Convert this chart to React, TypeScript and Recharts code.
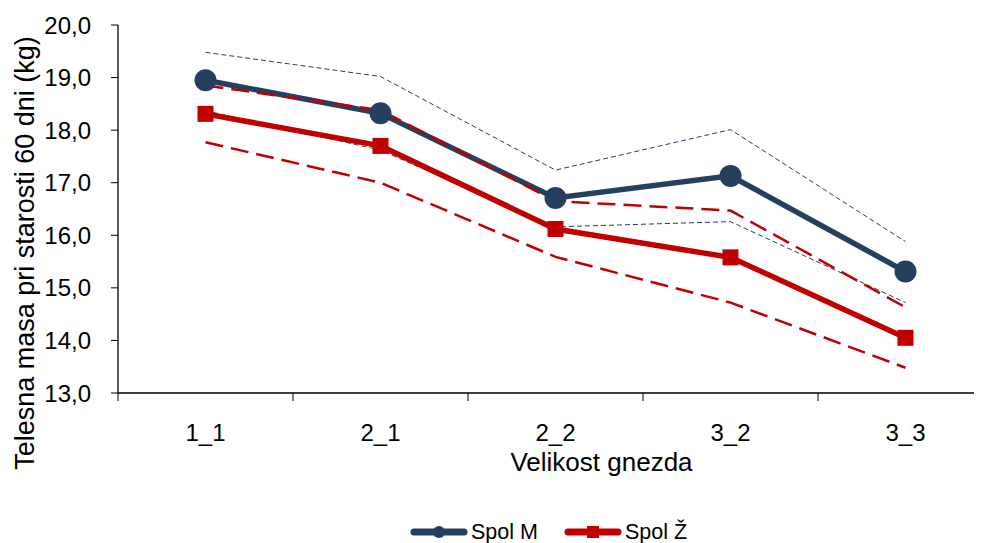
import React from "react";
import {
  ComposedChart,
  Line,
  XAxis,
  YAxis,
  Legend,
  Label,
} from "recharts";

// Velikost gnezda kategorije
const categories = ["1_1", "2_1", "2_2", "3_2", "3_3"];

// Spol M: povprecje in meje
const spolM = [18.95, 18.32, 16.71, 17.13, 15.31];
const spolMUpper = [19.48, 19.02, 17.24, 18.01, 15.88];
const spolMLower = [18.37, 17.62, 16.16, 16.26, 14.72];

// Spol Ž: povprecje in meje
const spolZ = [18.31, 17.7, 16.12, 15.58, 14.05];
const spolZUpper = [18.85, 18.38, 16.65, 16.47, 14.63];
const spolZLower = [17.77, 17.0, 15.59, 14.72, 13.48];

const yTicks = [13, 14, 15, 16, 17, 18, 19, 20];

const data = categories.map((c, i) => ({
  cat: c,
  m: spolM[i],
  mUp: spolMUpper[i],
  mLo: spolMLower[i],
  z: spolZ[i],
  zUp: spolZUpper[i],
  zLo: spolZLower[i],
}));

const NAVY = "#253F60";
const RED = "#C00000";
const FONT = "Arial, 'Liberation Sans', sans-serif";

const SquareDot = (props: any) => {
  const { cx, cy, index } = props;
  if (cx == null || cy == null) return <g key={`sq-${index}`} />;
  return <rect key={`sq-${index}`} x={cx - 8} y={cy - 8} width={16} height={16} fill={RED} />;
};

// kategorijska os: crtice med kategorijami (kot v Excelu)
const CategoryTick = (props: any) => {
  const { x, y, payload, index, visibleTicksCount } = props;
  const half = payload.offset ?? 0;
  const axisY = y - 31;
  return (
    <g>
      <line x1={x - half} y1={axisY} x2={x - half} y2={axisY + 8} stroke="#000" />
      {index === visibleTicksCount - 1 && (
        <line x1={x + half} y1={axisY} x2={x + half} y2={axisY + 8} stroke="#000" />
      )}
      <text x={x} y={y} dy="0.71em" textAnchor="middle" style={{ fontSize: 24, fill: "#000", fontFamily: FONT }}>
        {payload.value}
      </text>
    </g>
  );
};

const ValueTick = (props: any) => {
  const { y, payload } = props;
  return (
    <text x={83} y={y} dy="0.355em" textAnchor="end" style={{ fontSize: 24, fill: "#000", fontFamily: FONT }}>
      {Number(payload.value).toFixed(1).replace(".", ",")}
    </text>
  );
};

const LegendContent = () => (
  <div style={{ display: "flex", justifyContent: "center", alignItems: "center", fontFamily: FONT, fontSize: 21.5, color: "#000", lineHeight: "24px" }}>
    <div style={{ display: "flex", alignItems: "center", marginRight: 26 }}>
      <svg width={58} height={14}>
        <line x1={4} y1={7} x2={54} y2={7} stroke={NAVY} strokeWidth={7} strokeLinecap="round" />
        <circle cx={29} cy={7} r={6} fill={NAVY} />
      </svg>
      <span style={{ marginLeft: 3 }}>Spol M</span>
    </div>
    <div style={{ display: "flex", alignItems: "center" }}>
      <svg width={58} height={14}>
        <line x1={4} y1={7} x2={54} y2={7} stroke={RED} strokeWidth={7} strokeLinecap="round" />
        <rect x={23} y={1} width={12} height={12} fill={RED} />
      </svg>
      <span style={{ marginLeft: 3 }}>Spol Ž</span>
    </div>
  </div>
);

export default function App() {
  return (
    <div style={{ width: 974, height: 535, overflow: "hidden", background: "#fff" }}>
      <ComposedChart
        width={990}
        height={560}
        data={data}
        margin={{ top: 17, right: 5, bottom: 174, left: 0 }}
        style={{ fontFamily: FONT }}
      >
        <XAxis
          dataKey="cat"
          scale="band"
          height={1}
          axisLine={{ stroke: "#000", strokeWidth: 1.3 }}
          tickLine={false}
          tickSize={0}
          tickMargin={31}
          tick={<CategoryTick />}
          interval={0}
        >
          <Label value="Velikost gnezda" position="bottom" offset={59} dx={46} style={{ fontSize: 26, fill: "#000", fontFamily: FONT }} />
        </XAxis>
        <YAxis
          width={110}
          domain={[13, 20]}
          ticks={yTicks}
          allowDataOverflow
          axisLine={{ stroke: "#000", strokeWidth: 1.3 }}
          tickLine={{ stroke: "#000" }}
          tickSize={7}
          tick={<ValueTick />}
        >
          <Label
            content={({ viewBox }: any) => {
              const cy = viewBox.y + viewBox.height / 2 + 44;
              return (
                <text
                  x={25.5}
                  y={cy}
                  transform={`rotate(-90, 25.5, ${cy})`}
                  textAnchor="middle"
                  style={{ fontSize: 27, fill: "#000", fontFamily: FONT }}
                >
                  Telesna masa pri starosti 60 dni (kg)
                </text>
              );
            }}
          />
        </YAxis>
        <Legend
          content={<LegendContent />}
          wrapperStyle={{ top: 512, left: 103, width: 875, height: 0 }}
        />
        <Line dataKey="mUp" stroke={NAVY} strokeWidth={1} strokeDasharray="5 3" dot={false} legendType="none" isAnimationActive={false} />
        <Line dataKey="mLo" stroke={NAVY} strokeWidth={1} strokeDasharray="5 3" dot={false} legendType="none" isAnimationActive={false} />
        <Line
          dataKey="m"
          name="Spol M"
          stroke={NAVY}
          strokeWidth={5.5}
          dot={{ r: 11, fill: NAVY, stroke: NAVY, strokeWidth: 0 }}
          activeDot={false}
          isAnimationActive={false}
        />
        <Line
          dataKey="z"
          name="Spol Ž"
          stroke={RED}
          strokeWidth={5.5}
          dot={SquareDot}
          activeDot={false}
          isAnimationActive={false}
        />
        <Line dataKey="zUp" stroke={RED} strokeWidth={2.5} strokeDasharray="18 8" dot={false} legendType="none" isAnimationActive={false} />
        <Line dataKey="zLo" stroke={RED} strokeWidth={2.5} strokeDasharray="18 8" dot={false} legendType="none" isAnimationActive={false} />
      </ComposedChart>
    </div>
  );
}
